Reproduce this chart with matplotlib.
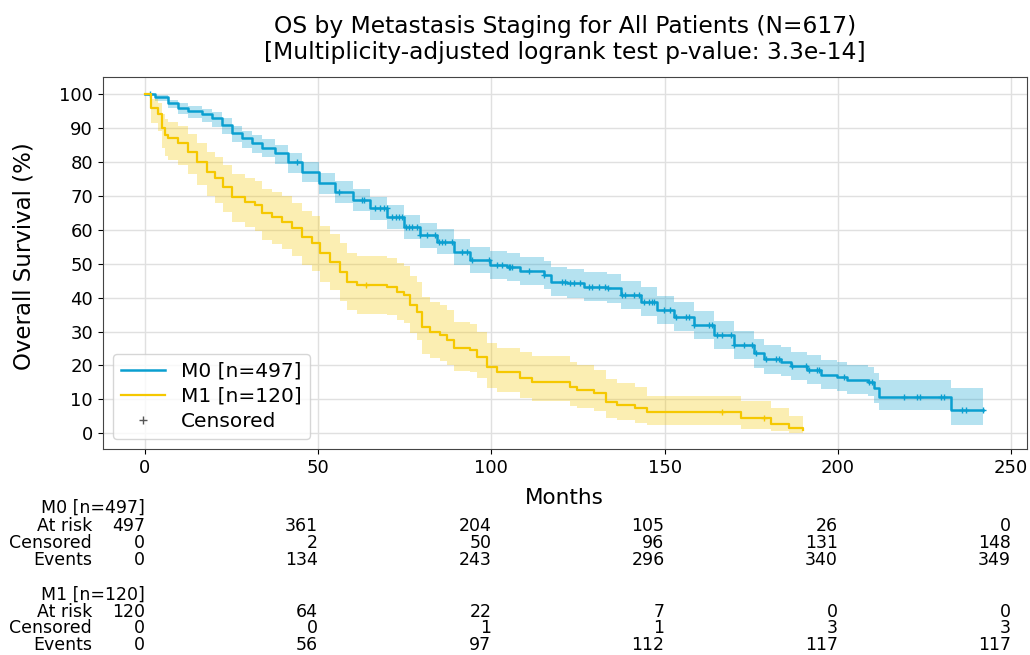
import numpy as np
import matplotlib.pyplot as plt
from matplotlib.lines import Line2D
from matplotlib.transforms import blended_transform_factory

# Kaplan-Meier steps: time (months), survival (%), CI lower/upper
m0_t = [0, 2.9, 6.7, 9.6, 12.5, 16.4, 19.3, 22.2, 25.1, 27.9, 30.8, 33.7, 37.6, 41.4, 45.3,
        50.1, 54.9, 60.2, 65.0, 69.9, 74.7, 79.5, 84.3, 89.1, 93.9, 99.7, 104.5, 108.4,
        115.1, 117.1, 121.9, 126.7, 133.4, 137.3, 143.1, 147.9, 152.7, 158.5, 164.3, 170.0,
        175.8, 178.7, 183.5, 186.4, 191.2, 195.1, 199.9, 202.8, 208.6, 210.4, 211.9, 232.7, 242.0]
m0_s = [100, 99.0, 97.3, 96.0, 95.0, 94.0, 92.8, 90.9, 88.4, 86.9, 85.5, 84.2, 82.5, 79.9, 77.1,
        73.7, 71.2, 68.8, 66.3, 63.8, 60.9, 58.4, 56.5, 53.5, 51.1, 49.6, 49.1, 47.9,
        46.7, 44.7, 44.2, 43.2, 42.7, 40.8, 38.8, 36.3, 34.4, 31.9, 29.0, 26.0,
        23.6, 21.8, 21.1, 19.8, 18.7, 17.2, 16.7, 15.7, 15.2, 13.3, 10.8, 6.9, 6.9]
m0_lo = [100, 98.0, 95.8, 94.2, 93.0, 91.8, 90.4, 88.3, 85.9, 84.2, 82.7, 81.3, 79.5, 76.8, 74.0,
         70.5, 67.9, 65.4, 62.8, 60.2, 57.3, 54.7, 52.7, 49.6, 47.1, 45.4, 44.9, 43.7,
         42.5, 40.5, 40.0, 39.0, 38.5, 36.6, 34.6, 32.1, 30.2, 27.7, 24.8, 21.8,
         19.4, 17.6, 16.9, 15.6, 14.5, 13.0, 12.5, 11.5, 11.0, 9.0, 6.8, 2.4, 2.4]
m0_hi = [100, 99.6, 98.3, 97.3, 96.5, 95.7, 94.7, 93.0, 90.5, 89.2, 87.9, 86.7, 85.1, 82.7, 80.0,
         76.7, 74.3, 72.0, 69.6, 67.2, 64.4, 62.0, 60.2, 57.3, 55.0, 53.6, 53.2, 52.0,
         50.9, 48.9, 48.4, 47.4, 46.9, 45.0, 43.0, 40.5, 38.6, 36.1, 33.2, 30.3,
         27.9, 26.1, 25.5, 24.1, 23.0, 21.6, 21.1, 20.1, 19.6, 17.9, 15.7, 13.3, 13.3]

m1_t = [0, 1.7, 3.8, 4.8, 5.8, 6.7, 9.6, 12.5, 14.9, 17.8, 20.2, 22.6, 25.1, 28.9, 31.8, 33.7,
        36.6, 39.5, 42.4, 45.3, 48.2, 50.6, 53.5, 56.4, 58.3, 61.1, 69.8, 72.7, 74.7, 76.6,
        78.5, 79.9, 82.4, 85.3, 87.2, 89.1, 93.9, 95.9, 98.8, 101.6, 108.4, 111.8, 122.8,
        124.7, 129.6, 133.0, 136.3, 141.6, 145.0, 172.0, 180.6, 185.9, 190.1]
m1_s = [100, 95.8, 94.2, 89.9, 87.9, 86.9, 85.5, 83.0, 80.0, 77.1, 75.2, 72.7, 69.7, 68.3, 67.3, 64.8,
        63.8, 62.4, 60.4, 57.9, 56.0, 53.1, 50.6, 47.6, 44.7, 43.7, 43.2, 41.7, 40.8, 37.8,
        35.8, 31.4, 29.9, 29.0, 27.5, 25.1, 24.6, 22.6, 19.6, 18.2, 16.2, 15.2, 13.7,
        12.8, 11.8, 9.3, 8.3, 7.4, 6.4, 4.4, 2.9, 1.5, 1.0]
m1_lo = [100, 91.5, 89.0, 84.0, 81.8, 80.6, 79.2, 76.4, 73.2, 70.0, 68.0, 65.3, 62.2, 60.7, 59.6, 57.0,
         55.9, 54.4, 52.3, 49.7, 47.7, 44.7, 42.2, 39.1, 36.3, 35.3, 34.8, 33.3, 32.4, 29.5,
         27.6, 23.5, 22.1, 21.3, 20.0, 18.4, 18.0, 16.2, 13.5, 12.2, 10.4, 9.6, 8.2,
         7.4, 6.6, 4.6, 3.9, 3.2, 2.5, 1.3, 0.6, 0.2, 0.1]
m1_hi = [100, 98.6, 97.2, 94.2, 92.5, 91.6, 90.5, 88.3, 85.6, 83.0, 81.3, 79.1, 76.4, 75.2, 74.3, 72.0,
         71.1, 69.8, 68.0, 65.6, 63.9, 61.1, 58.8, 56.0, 53.2, 52.2, 51.7, 50.3, 49.4, 46.5,
         44.6, 40.3, 38.8, 37.9, 36.3, 32.8, 32.2, 29.8, 26.7, 25.2, 23.9, 22.8, 21.0,
         20.0, 18.8, 15.9, 14.7, 13.6, 11.0, 9.5, 7.4, 5.0, 4.0]

# censoring times (months)
m0_cens = [1.5, 44.0, 55.9, 62.6, 63.1, 66.5, 67.9, 68.9, 69.8, 71.3, 72.5, 73.2, 74.2, 75.4, 76.1,
           77.1, 78.5, 79.5, 81.4, 83.8, 84.8, 85.7, 86.7, 88.6, 91.5, 93.0, 94.4, 99.2, 101.6,
           103.1, 105.0, 105.5, 106.0, 110.8, 115.1, 120.4, 121.4, 122.8, 123.8, 125.7, 128.1,
           129.1, 131.0, 132.9, 133.6, 137.8, 138.7, 141.1, 142.6, 144.0, 145.5, 146.4, 146.9,
           149.8, 151.7, 153.2, 156.1, 157.0, 158.5, 162.8, 163.8, 165.2, 166.7, 169.1, 170.0,
           172.9, 175.3, 176.3, 179.2, 182.1, 183.0, 186.9, 190.8, 191.7, 194.1, 194.6, 201.8,
           209.0, 210.0, 219.2, 223.0, 223.8, 229.8, 230.7, 236.0, 237.0, 242.0]
m1_cens = [63.8, 166.7, 178.7]

risk_ticks = [0, 50, 100, 150, 200, 250]
m0_at_risk = [497, 361, 204, 105, 26, 0]
m0_censored = [0, 2, 50, 96, 131, 148]
m0_events = [0, 134, 243, 296, 340, 349]
m1_at_risk = [120, 64, 22, 7, 0, 0]
m1_censored = [0, 0, 1, 1, 3, 3]
m1_events = [0, 56, 97, 112, 117, 117]

blue = '#0a9fd0'
gold = '#f5c800'

fig = plt.figure(figsize=(10.3, 6.55), dpi=100)
ax = fig.add_axes([0.0997, 0.3145, 0.8973, 0.5675])


def draw(t, s, lo, hi, cens, color, label, lw):
    t = np.array(t)
    s = np.array(s)
    ax.fill_between(t, lo, hi, step='post', color=color, alpha=0.3, lw=0)
    ax.step(t, s, where='post', color=color, lw=lw, label=label)
    idx = np.searchsorted(t, cens, side='right') - 1
    ax.plot(cens, s[idx], ls='none', marker='+', ms=5, mew=1.0, color=color)


draw(m0_t, m0_s, m0_lo, m0_hi, m0_cens, blue, 'M0 [n=497]', 1.8)
draw(m1_t, m1_s, m1_lo, m1_hi, m1_cens, gold, 'M1 [n=120]', 1.6)

ax.set_xlim(-12.2, 254.6)
ax.set_ylim(-4.6, 104.9)
ax.set_xticks(risk_ticks)
ax.set_yticks(range(0, 101, 10))
ax.grid(True, color='#e0e0e0', lw=1)
ax.set_axisbelow(True)
ax.tick_params(labelsize=13)
for sp in ax.spines.values():
    sp.set_color('#444444')

ax.set_title('OS by Metastasis Staging for All Patients (N=617)\n'
             '[Multiplicity-adjusted logrank test p-value: 3.3e-14]',
             fontsize=16.8, pad=13, linespacing=1.2)
ax.set_xlabel('Months', fontsize=15.5, labelpad=8)
ax.set_ylabel('Overall Survival (%)', fontsize=16.5)
ax.yaxis.set_label_coords(-0.073, 0.52)

handles = [Line2D([], [], color=blue, lw=1.8),
           Line2D([], [], color=gold, lw=1.6),
           Line2D([], [], ls='none', marker='+', color='#555555', ms=6)]
ax.legend(handles, ['M0 [n=497]', 'M1 [n=120]', 'Censored'], loc='lower left',
          fontsize=14.5, handlelength=2.2, borderpad=0.4, labelspacing=0.3)

# number-at-risk table
tr = blended_transform_factory(ax.transData, fig.transFigure)
fs = 12.5


def ypix(p):
    return 1 - p / 655


groups = [('M0 [n=497]', [m0_at_risk, m0_censored, m0_events], [508, 526, 543, 560]),
          ('M1 [n=120]', [m1_at_risk, m1_censored, m1_events], [595, 612, 628, 645])]
for name, rows, ys in groups:
    fig.text(0, ypix(ys[0]), name, transform=tr, ha='right', va='center', fontsize=fs)
    for lab, vals, yp in zip(['At risk', 'Censored', 'Events'], rows, ys[1:]):
        fig.text(92 / 1030, ypix(yp), lab, ha='right', va='center', fontsize=fs)
        for x, v in zip(risk_ticks, vals):
            fig.text(x, ypix(yp), str(v), transform=tr, ha='right', va='center', fontsize=fs)

fig.savefig('out.png', dpi=100)
